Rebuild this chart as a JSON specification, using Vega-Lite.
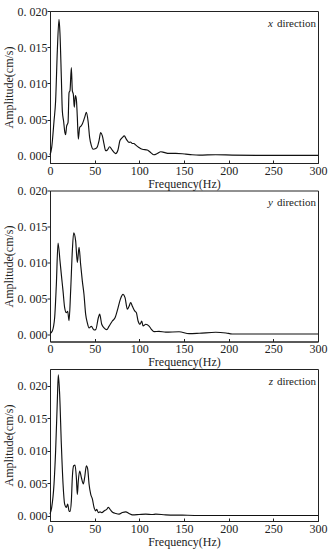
{
  "$schema": "https://vega.github.io/schema/vega-lite/v6.json",
  "padding": {"left": 1, "top": 4, "right": 5, "bottom": 5},
  "background": "white",
  "datasets": {
    "px": [
      {"f":0,"a":0.0001},{"f":1.9,"a":0.00115},{"f":4.5,"a":0.0048},{"f":6.3,"a":0.0076},{"f":8.2,"a":0.0145},{"f":10.1,"a":0.01885},
      {"f":11.2,"a":0.0168},{"f":12.7,"a":0.0108},{"f":13.8,"a":0.0062},{"f":15.2,"a":0.0048},{"f":16.7,"a":0.0032},{"f":17.5,"a":0.0029},
      {"f":18.6,"a":0.0041},{"f":20.2,"a":0.0046},{"f":21.3,"a":0.0087},{"f":22.4,"a":0.009},{"f":23.9,"a":0.0122},{"f":25,"a":0.009},
      {"f":26.1,"a":0.0085},{"f":27.2,"a":0.0067},{"f":28.4,"a":0.0083},{"f":29.5,"a":0.0078},{"f":30.6,"a":0.0053},{"f":31.7,"a":0.0023},
      {"f":33.2,"a":0.0039},{"f":34.7,"a":0.0041},{"f":36.2,"a":0.0044},{"f":38.8,"a":0.0053},{"f":40.7,"a":0.006},{"f":42.6,"a":0.0048},
      {"f":44.4,"a":0.0025},{"f":46.3,"a":0.0014},{"f":48.2,"a":0.0009},{"f":51.2,"a":0.001},{"f":53,"a":0.00125},{"f":54.9,"a":0.0021},
      {"f":56.7,"a":0.0032},{"f":58.6,"a":0.00275},{"f":60.5,"a":0.0016},{"f":62.3,"a":0.0007},{"f":64.2,"a":0.0008},{"f":66.8,"a":0.00125},
      {"f":69,"a":0.0009},{"f":71.7,"a":0.00046},{"f":73.5,"a":0.0003},{"f":76.1,"a":0.0008},{"f":78.3,"a":0.0021},{"f":80.9,"a":0.0025},
      {"f":83.2,"a":0.00275},{"f":85.4,"a":0.0023},{"f":88.4,"a":0.00185},{"f":90,"a":0.0019},{"f":92.1,"a":0.0017},{"f":94,"a":0.0017},{"f":95.8,"a":0.0015},
      {"f":99.5,"a":0.00115},{"f":103.3,"a":0.0009},{"f":108.9,"a":0.0008},{"f":112.6,"a":0.00046},{"f":116.3,"a":0.00014},{"f":120,"a":0.0003},
      {"f":124,"a":0.00055},{"f":127.7,"a":0.00046},{"f":133,"a":0.00032},{"f":140.7,"a":0.00032},{"f":148,"a":0.00028},{"f":152,"a":0.00023},
      {"f":159,"a":0.00014},{"f":167,"a":0.00009},{"f":185.5,"a":0.00014},{"f":204,"a":0.00009},{"f":241,"a":0.00005},{"f":300,"a":0.00005}
    ],
    "py": [
      {"f":0,"a":0.0001},{"f":2.6,"a":0.00046},{"f":5.2,"a":0.0023},{"f":7.1,"a":0.0069},{"f":9,"a":0.0127},{"f":11.2,"a":0.0102},
      {"f":12.7,"a":0.0083},{"f":14.6,"a":0.006},{"f":16.4,"a":0.0037},{"f":18.3,"a":0.003},{"f":19.8,"a":0.0032},{"f":21.3,"a":0.0019},
      {"f":23.1,"a":0.006},{"f":25,"a":0.0116},{"f":26.5,"a":0.0141},{"f":28.7,"a":0.013},{"f":30.6,"a":0.01},{"f":32.5,"a":0.0121},
      {"f":34.3,"a":0.0097},{"f":36.2,"a":0.0074},{"f":38,"a":0.0056},{"f":39.9,"a":0.0028},{"f":41.8,"a":0.0016},{"f":43.7,"a":0.0009},
      {"f":46.3,"a":0.0011},{"f":49.3,"a":0.0006},{"f":51.2,"a":0.00065},{"f":54.1,"a":0.0023},{"f":55.6,"a":0.0028},{"f":57.9,"a":0.0014},
      {"f":60.5,"a":0.0009},{"f":63.5,"a":0.00065},{"f":66,"a":0.0011},{"f":69.8,"a":0.00185},{"f":72.8,"a":0.0023},{"f":75.8,"a":0.0035},
      {"f":78.8,"a":0.0049},{"f":81.8,"a":0.00555},{"f":84,"a":0.0051},{"f":86.6,"a":0.0035},{"f":88.5,"a":0.0039},{"f":90.3,"a":0.0044},
      {"f":92.2,"a":0.0039},{"f":94.8,"a":0.00325},{"f":96.7,"a":0.003},{"f":98.6,"a":0.00185},{"f":100.8,"a":0.0014},{"f":102.7,"a":0.00185},
      {"f":104.2,"a":0.00115},{"f":107.2,"a":0.0014},{"f":110.9,"a":0.00115},{"f":113.5,"a":0.0007},{"f":116.5,"a":0.00037},{"f":122,"a":0.0004},
      {"f":129.5,"a":0.0003},{"f":144.5,"a":0.00035},{"f":155.7,"a":0.0001},{"f":167,"a":0.00015},{"f":185.5,"a":0.00028},{"f":197,"a":0.00018},
      {"f":204,"a":0.00005},{"f":241.5,"a":0.00005},{"f":300,"a":0.00005}
    ],
    "pz": [
      {"f":0,"a":0.00026},{"f":1.9,"a":0.0013},{"f":4.5,"a":0.0049},{"f":6.3,"a":0.01},{"f":8.2,"a":0.0177},{"f":9.3,"a":0.0217},
      {"f":10.8,"a":0.0187},{"f":12.7,"a":0.011},{"f":14.6,"a":0.0049},{"f":16.4,"a":0.0018},{"f":18.3,"a":0.0013},{"f":19.8,"a":0.0018},
      {"f":21.3,"a":0.00077},{"f":22.4,"a":0.00067},{"f":23.9,"a":0.0023},{"f":25,"a":0.0059},{"f":26.5,"a":0.0077},{"f":28,"a":0.0078},
      {"f":29.5,"a":0.0059},{"f":30.6,"a":0.0033},{"f":31.7,"a":0.0054},{"f":33.2,"a":0.0069},{"f":35.1,"a":0.0059},{"f":37.3,"a":0.0049},
      {"f":38.8,"a":0.0059},{"f":40.7,"a":0.0077},{"f":42.2,"a":0.0072},{"f":43.7,"a":0.0049},{"f":45.6,"a":0.0033},{"f":47.4,"a":0.0026},
      {"f":49.3,"a":0.0013},{"f":51.2,"a":0.00077},{"f":52.3,"a":0.001},{"f":54.1,"a":0.0005},{"f":56,"a":0.0006},{"f":57.9,"a":0.0005},
      {"f":60.9,"a":0.00077},{"f":63.5,"a":0.001},{"f":65.3,"a":0.0013},{"f":67.9,"a":0.00087},{"f":70.5,"a":0.0005},{"f":73.5,"a":0.00036},
      {"f":77.3,"a":0.00026},{"f":81,"a":0.0005},{"f":84.8,"a":0.0006},{"f":88.5,"a":0.00036},{"f":92.2,"a":0.00015},{"f":99.7,"a":0.0002},
      {"f":107.2,"a":0.00026},{"f":114.6,"a":0.0002},{"f":118.4,"a":0.00026},{"f":129.5,"a":0.00015},{"f":148,"a":0.0001},{"f":167,"a":0.00005},
      {"f":300,"a":0.00005}
    ]
  },
  "config": {
    "font": "Liberation Serif",
    "view": {"stroke": "#222", "strokeWidth": 1},
    "axis": {
      "grid": false,
      "domainColor": "#222",
      "tickColor": "#222",
      "labelColor": "#222",
      "titleColor": "#222",
      "labelFont": "Liberation Serif",
      "titleFont": "Liberation Serif",
      "labelFontSize": 12,
      "titleFontSize": 12,
      "titleFontWeight": "normal",
      "labelFlush": false,
      "labelOverlap": false
    },
    "axisX": {"tickSize": -3, "labelPadding": 5, "titlePadding": 2},
    "axisY": {"tickSize": 3, "labelPadding": 0, "titlePadding": 2},
    "line": {"color": "#111", "strokeWidth": 1.15},
    "text": {"font": "Liberation Serif", "fontSize": 11, "color": "#222"}
  },
  "vconcat": [
    {
      "width": 268, "height": 152,
      "layer": [
        {"data": {"name": "px"}, "mark": {"type": "line", "interpolate": "monotone"},
         "encoding": {
           "x": {"field": "f", "type": "quantitative", "scale": {"domain": [0, 300], "nice": false}, "axis": {"values": [0,50,100,150,200,250,300], "tickCount": 7, "labelOverlap": false, "title": "Frequency(Hz)"}},
           "y": {"field": "a", "type": "quantitative", "scale": {"domain": [-0.001, 0.02], "nice": false, "zero": false}, "axis": {"values": [0,0.005,0.01,0.015,0.02], "tickCount": 5, "labelOverlap": false, "format": ".3f", "labelExpr": "replace(datum.label, '.', '. ')", "title": "Amplitude(cm/s)"}}
         }},
        {"data": {"values": [{"f": 300, "a": 0.0182, "t": "direction"}]}, "mark": {"type": "text", "align": "right", "baseline": "middle", "dx": -2},
         "encoding": {"x": {"field": "f", "type": "quantitative"}, "y": {"field": "a", "type": "quantitative"}, "text": {"field": "t"}}},
        {"data": {"values": [{"f": 300, "a": 0.0182, "t": "x"}]}, "mark": {"type": "text", "align": "right", "baseline": "middle", "dx": -45, "fontStyle": "italic"},
         "encoding": {"x": {"field": "f", "type": "quantitative"}, "y": {"field": "a", "type": "quantitative"}, "text": {"field": "t"}}}
      ]
    },
    {
      "width": 268, "height": 151,
      "layer": [
        {"data": {"name": "py"}, "mark": {"type": "line", "interpolate": "monotone"},
         "encoding": {
           "x": {"field": "f", "type": "quantitative", "scale": {"domain": [0, 300], "nice": false}, "axis": {"values": [0,50,100,150,200,250,300], "tickCount": 7, "labelOverlap": false, "title": "Frequency(Hz)"}},
           "y": {"field": "a", "type": "quantitative", "scale": {"domain": [-0.001, 0.02], "nice": false, "zero": false}, "axis": {"values": [0,0.005,0.01,0.015,0.02], "tickCount": 5, "labelOverlap": false, "format": ".3f", "labelExpr": "replace(datum.label, '.', '. ')", "title": "Amplitude(cm/s)"}}
         }},
        {"data": {"values": [{"f": 300, "a": 0.0182, "t": "direction"}]}, "mark": {"type": "text", "align": "right", "baseline": "middle", "dx": -2},
         "encoding": {"x": {"field": "f", "type": "quantitative"}, "y": {"field": "a", "type": "quantitative"}, "text": {"field": "t"}}},
        {"data": {"values": [{"f": 300, "a": 0.0182, "t": "y"}]}, "mark": {"type": "text", "align": "right", "baseline": "middle", "dx": -45, "fontStyle": "italic"},
         "encoding": {"x": {"field": "f", "type": "quantitative"}, "y": {"field": "a", "type": "quantitative"}, "text": {"field": "t"}}}
      ]
    },
    {
      "width": 268, "height": 152,
      "layer": [
        {"data": {"name": "pz"}, "mark": {"type": "line", "interpolate": "monotone"},
         "encoding": {
           "x": {"field": "f", "type": "quantitative", "scale": {"domain": [0, 300], "nice": false}, "axis": {"values": [0,50,100,150,200,250,300], "tickCount": 7, "labelOverlap": false, "title": "Frequency(Hz)"}},
           "y": {"field": "a", "type": "quantitative", "scale": {"domain": [-0.0008, 0.0226], "nice": false, "zero": false}, "axis": {"values": [0,0.005,0.01,0.015,0.02], "tickCount": 5, "labelOverlap": false, "format": ".3f", "labelExpr": "replace(datum.label, '.', '. ')", "title": "Amplitude(cm/s)"}}
         }},
        {"data": {"values": [{"f": 300, "a": 0.0206, "t": "direction"}]}, "mark": {"type": "text", "align": "right", "baseline": "middle", "dx": -2},
         "encoding": {"x": {"field": "f", "type": "quantitative"}, "y": {"field": "a", "type": "quantitative"}, "text": {"field": "t"}}},
        {"data": {"values": [{"f": 300, "a": 0.0206, "t": "z"}]}, "mark": {"type": "text", "align": "right", "baseline": "middle", "dx": -45, "fontStyle": "italic"},
         "encoding": {"x": {"field": "f", "type": "quantitative"}, "y": {"field": "a", "type": "quantitative"}, "text": {"field": "t"}}}
      ]
    }
  ],
  "bounds": "flush",
  "spacing": 27.5
}
